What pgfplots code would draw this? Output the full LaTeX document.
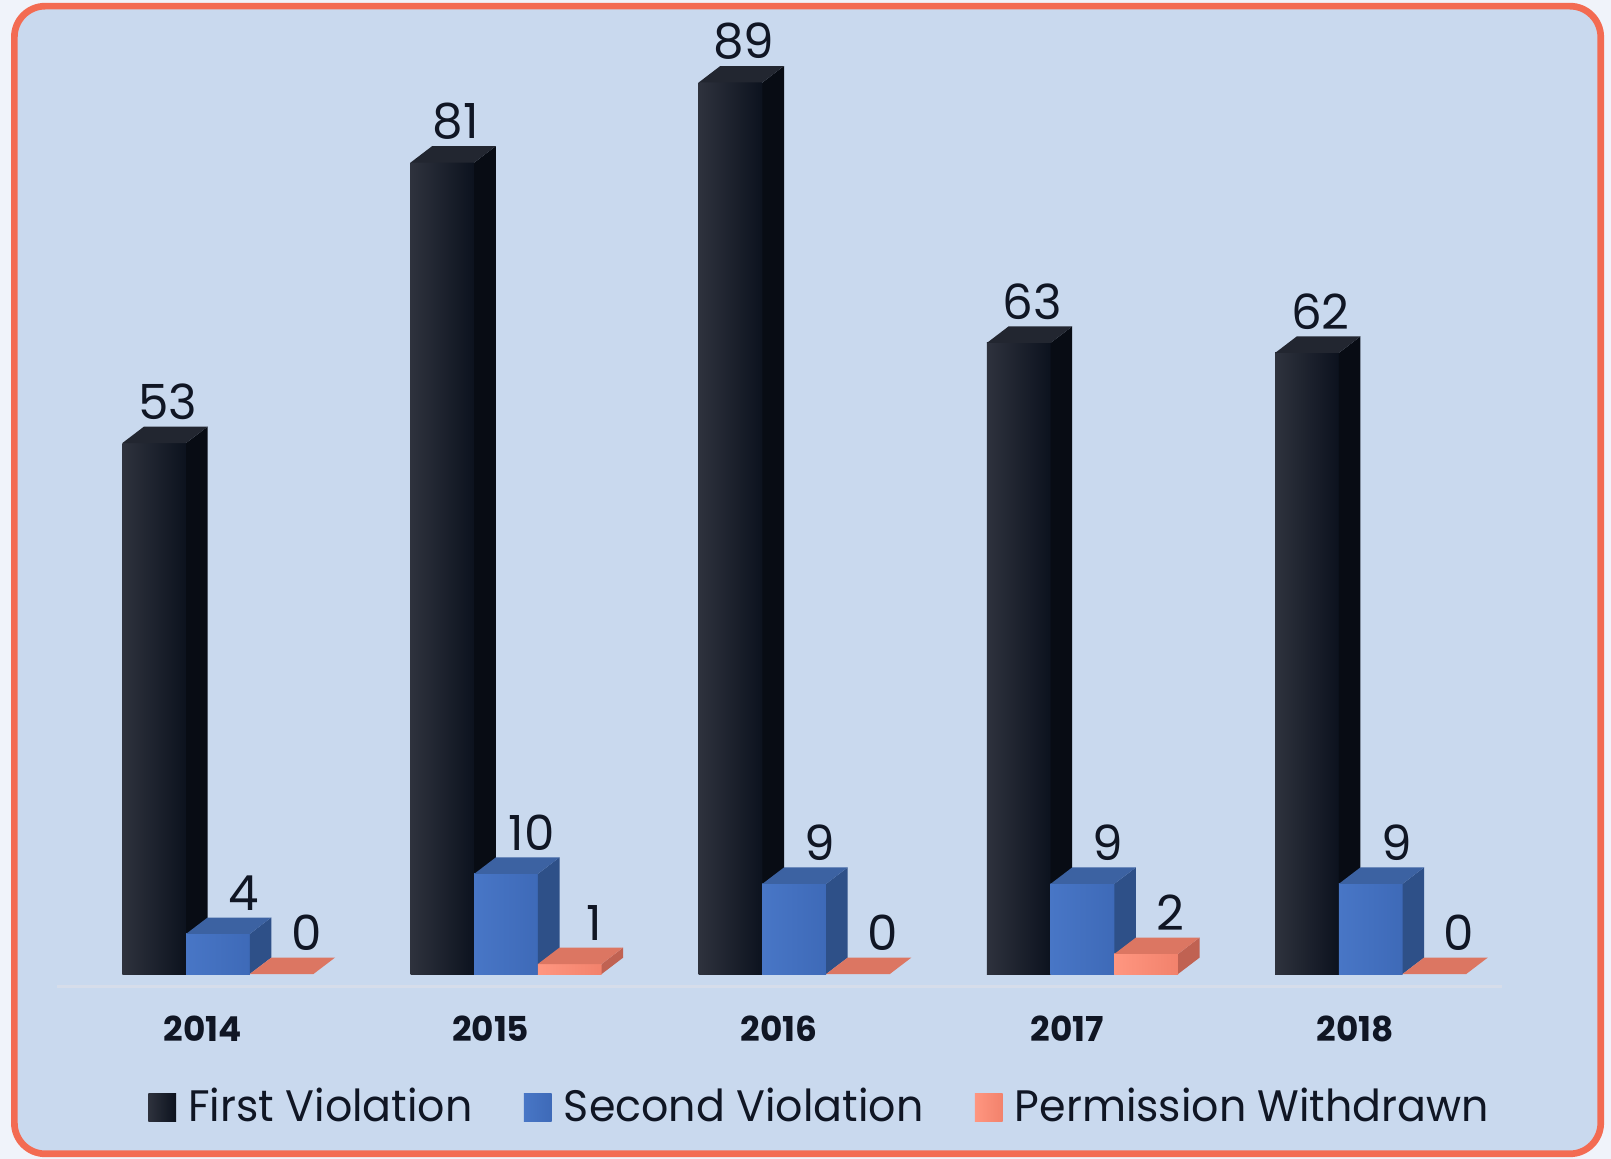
\documentclass[border=0pt]{standalone}
\usepackage{pgfplots}
\pgfplotsset{compat=1.18}
\usepackage{pgfplotstable}
\usepackage{fontspec}
\setmainfont{Poppins}
\newfontfamily\legfont[FakeStretch=0.97]{Poppins}

\definecolor{bg}{RGB}{201,217,238}
\definecolor{border}{RGB}{243,107,82}
\definecolor{outer}{RGB}{240,243,250}
\definecolor{txt}{RGB}{16,22,36}
\definecolor{gline}{RGB}{214,221,234}
\definecolor{kA}{RGB}{46,50,61}
\definecolor{kB}{RGB}{12,18,30}
\definecolor{kTop}{RGB}{34,38,48}
\definecolor{kSide}{RGB}{8,12,20}
\definecolor{bA}{RGB}{72,118,198}
\definecolor{bB}{RGB}{62,106,184}
\definecolor{bTop}{RGB}{60,98,162}
\definecolor{bSide}{RGB}{46,80,136}
\definecolor{pA}{RGB}{255,150,128}
\definecolor{pB}{RGB}{242,130,108}
\definecolor{pTop}{RGB}{220,118,98}
\definecolor{pSide}{RGB}{192,98,82}

\pgfplotstableread{
x first second perm
0 53 4 0
1 81 10 1
2 89 9 0
3 63 9 2
4 62 9 0
}\datatable

\newdimen\yuLen \yuLen=0.0975cm
\newdimen\barH
\newcommand\dxx{0.21cm}
\newcommand\dyy{0.16cm}
\pgfdeclareplotmark{nothing}{}

\pgfplotsset{
  bar3d/.style n args={4}{%
    scatter, only marks, mark=nothing, forget plot,
    point meta=explicit, point meta min=0, point meta max=1000,
    scatter/@post marker code/.code={},
    scatter/@pre marker code/.code={%
      \global\barH=\pgfplotspointmetatransformed\yuLen
      \edef\hh{\the\barH}%
      \ifdim\barH>0pt
        \shade[draw=none, left color=#1,right color=#2] (-0.31cm,0pt) rectangle (0.31cm,-\hh);
        \fill[draw=none, #4] (0.31cm,0pt) -- ++(\dxx,\dyy) -- ++(0pt,-\hh) -- ++(-\dxx,-\dyy) -- cycle;
      \fi
      \fill[draw=none, #3] (-0.31cm,0pt) -- ++(\dxx,\dyy) -- ++(0.62cm,0pt) -- ++(-\dxx,-\dyy) -- cycle;
    },
  },
  vlabels/.style={only marks, mark=nothing, forget plot, point meta=explicit,
    nodes near coords,
    nodes near coords style={font=\fontsize{13.4}{15}\selectfont, text=txt, anchor=center, inner sep=0pt, yshift=0.40cm, xshift=#1},
  },
}

\begin{document}
\begin{tikzpicture}
\useasboundingbox (0,0) rectangle (15.68cm,11.28cm);
\fill[outer] (0,0) rectangle (15.68cm,11.28cm);
\draw[border, line width=0.065cm, fill=bg, rounded corners=0.3cm] (0.14cm,0.05cm) rectangle (15.58cm,11.22cm);
\begin{axis}[
  at={(0.55cm,1.68cm)}, anchor=south west,
  x=2.805cm, y=0.0975cm,
  xmin=-0.56, xmax=4.456, ymin=-1.23, ymax=95,
  clip=false,
  /pgf/number format/assume math mode=true,
  axis x line=bottom, axis y line=none,
  x axis line style={-, draw=gline, line width=0.7pt},
  xtick={0,1,2,3,4},
  xticklabels={2014,2015,2016,2017,2018},
  xtick style={draw=none},
  ytick=\empty,
  xticklabel style={font=\bfseries\fontsize{9.5}{10}\selectfont, text=txt, inner sep=0pt, anchor=north, yshift=-0.21cm, xshift=-0.15cm},
  legend style={draw=none, fill=none, at={(0.529,0)}, anchor=center, yshift=-1.18cm,
    legend columns=3, font=\legfont\fontsize{12.2}{14}\selectfont, text=txt,
    nodes={inner sep=0.05cm},
    /tikz/every odd column/.append style={column sep=0.07cm},
    /tikz/every even column/.append style={column sep=0.45cm}},
]
\addplot[bar3d={kA}{kB}{kTop}{kSide}]
  table[x expr=\thisrow{x}-0.22103, y=first, meta=first] {\datatable};
\addplot[bar3d={bA}{bB}{bTop}{bSide}]
  table[x=x, y=second, meta=second] {\datatable};
\addplot[bar3d={pA}{pB}{pTop}{pSide}]
  table[x expr=\thisrow{x}+0.22103, y=perm, meta=perm] {\datatable};

\addplot[vlabels=0.13cm] table[x expr=\thisrow{x}-0.22103, y=first, meta=first] {\datatable};
\addplot[vlabels=0.25cm] table[x=x, y=second, meta=second] {\datatable};
\addplot[vlabels=0.24cm] table[x expr=\thisrow{x}+0.22103, y=perm, meta=perm] {\datatable};

\addlegendimage{legend image code/.code={\shade[draw=none, left color=kA, right color=kB] (0cm,-0.135cm) rectangle (0.27cm,0.135cm);}}
\addlegendentry{First Violation}
\addlegendimage{legend image code/.code={\shade[draw=none, left color=bA, right color=bB] (0cm,-0.135cm) rectangle (0.27cm,0.135cm);}}
\addlegendentry{Second Violation}
\addlegendimage{legend image code/.code={\shade[draw=none, left color=pA, right color=pB] (0cm,-0.135cm) rectangle (0.27cm,0.135cm);}}
\addlegendentry{Permission Withdrawn}
\end{axis}
\end{tikzpicture}
\end{document}
